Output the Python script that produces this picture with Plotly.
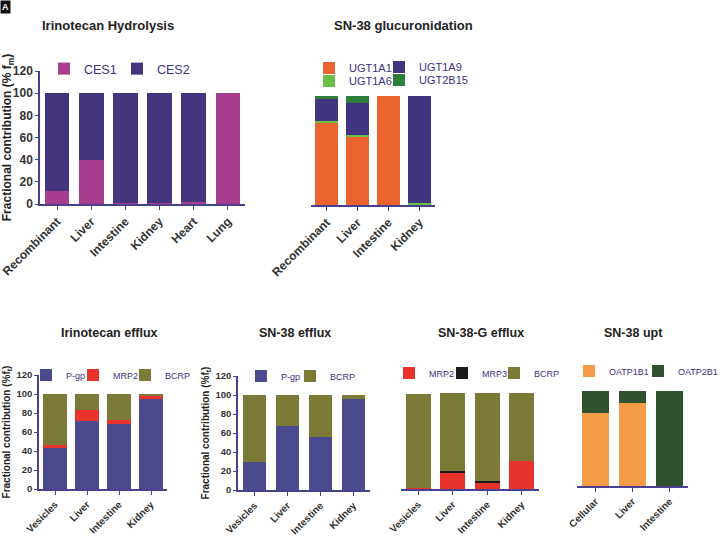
import plotly.graph_objects as go

W, H = 722, 539

# ---------------- data ----------------
hyd_categories = ["Recombinant", "Liver", "Intestine", "Kidney", "Heart", "Lung"]
hyd_ces1 = [12, 40, 0.5, 1, 2, 100]
hyd_ces2 = [88, 60, 99.5, 99, 98, 0]

gluc_categories = ["Recombinant", "Liver", "Intestine", "Kidney"]
gluc_ugt1a1 = [74, 62, 98, 0]
gluc_ugt1a6 = [1.5, 1, 0, 1.5]
gluc_ugt1a9 = [21, 29, 0, 96.5]
gluc_ugt2b15 = [1.5, 6, 0, 0]

irefflux_categories = ["Vesicles", "Liver", "Intestine", "Kidney"]
irefflux_pgp = [44, 72, 68, 95]
irefflux_mrp2 = [2, 11, 5, 3.5]
irefflux_bcrp = [54, 17, 27, 1.5]

snefflux_categories = ["Vesicles", "Liver", "Intestine", "Kidney"]
snefflux_pgp = [30, 67, 55.5, 95.5]
snefflux_bcrp = [70, 33, 44.5, 4.5]

gefflux_categories = ["Vesicles", "Liver", "Intestine", "Kidney"]
gefflux_mrp2 = [1.5, 17.5, 6.5, 29]
gefflux_mrp3 = [0, 1.5, 2, 0]
gefflux_bcrp = [98.5, 82, 92.5, 72]

upt_categories = ["Cellular", "Liver", "Intestine"]
upt_oatp1b1 = [76.5, 87, 0]
upt_oatp2b1 = [23.5, 13, 100]

y_ticks = [0, 20, 40, 60, 80, 100, 120]

# ---------------- style ----------------
FONT = "Liberation Sans, Arial, sans-serif"
AX_COLOR = "#4b3f8f"
TICK_COLOR = "#333333"
LEG_COLOR = "#3c3185"

C_CES1 = "#a63d8e"
C_CES2 = "#45357f"
C_UGT1A1 = "#eb6430"
C_UGT1A6 = "#6cbf46"
C_UGT1A9 = "#413581"
C_UGT2B15 = "#2f7d3b"
C_PGP = "#4b4a8e"
C_MRP2 = "#e8322b"
C_MRP3 = "#1a1a1a"
C_BCRP = "#7b7a36"
C_OATP1B1 = "#f59c47"
C_OATP2B1 = "#30522f"

fig = go.Figure()


def fx(px):
    return px / W


def fy(py):
    return (H - py) / H


legend_defs = {}
leg_count = [0]


def add_panel(idx, cats, series, x0, x1, y0, ytop, show_y, ytitle, tick_size, xtick_size,
              ytitle_size, leg_size):
    ax = "" if idx == 1 else str(idx)
    for name, vals, color, (sx, sy) in series:
        leg_count[0] += 1
        lname = "legend" if leg_count[0] == 1 else "legend%d" % leg_count[0]
        fig.add_trace(go.Bar(x=cats, y=vals, name=name, width=0.72, showlegend=True,
                             marker=dict(color=color, line=dict(width=0)),
                             xaxis="x" + ax, yaxis="y" + ax, legend=lname))
        # sx, sy: pixel centre of the legend swatch
        legend_defs[lname] = dict(x=fx(sx - 20), y=fy(sy), xanchor="left", yanchor="middle",
                                  orientation="h", bgcolor="rgba(255,255,255,0)", borderwidth=0,
                                  itemclick=False, itemdoubleclick=False, visible=True,
                                  font=dict(family=FONT, size=leg_size, color=LEG_COLOR))
    xa = dict(domain=[fx(x0), fx(x1)], anchor="y" + ax, showline=True, linecolor=AX_COLOR,
              linewidth=1.5, ticks="outside", ticklen=4, tickwidth=1.3, tickcolor=AX_COLOR,
              tickangle=-45, showgrid=False, zeroline=False, automargin=False,
              tickfont=dict(family=FONT, size=xtick_size, color=TICK_COLOR, weight="bold"))
    ya = dict(domain=[fy(y0), fy(ytop)], anchor="x" + ax, range=[0, 120], showgrid=False,
              zeroline=False, automargin=False)
    if show_y:
        ya.update(showline=True, linecolor=AX_COLOR, linewidth=1.5, ticks="outside", ticklen=3,
                  tickwidth=1.3, tickcolor=AX_COLOR, tickvals=y_ticks,
                  tickfont=dict(family=FONT, size=tick_size, color=TICK_COLOR, weight="bold"),
                  title=dict(text=ytitle, standoff=4,
                             font=dict(family=FONT, size=ytitle_size, color="#222222",
                                       weight="bold")))
    else:
        ya.update(showline=False, showticklabels=False, ticks="")
    fig.update_layout(**{"xaxis" + ax: xa, "yaxis" + ax: ya})


add_panel(1, hyd_categories,
          [("CES1", hyd_ces1, C_CES1, (64, 69)), ("CES2", hyd_ces2, C_CES2, (137, 69))],
          40, 245, 204, 71, True, "Fractional contribution (% f<sub>m</sub>)", 12, 12, 12, 12.5)

add_panel(2, gluc_categories,
          [("UGT1A1", gluc_ugt1a1, C_UGT1A1, (329, 68)),
           ("UGT1A6", gluc_ugt1a6, C_UGT1A6, (329, 81)),
           ("UGT1A9", gluc_ugt1a9, C_UGT1A9, (399, 67)),
           ("UGT2B15", gluc_ugt2b15, C_UGT2B15, (399, 80))],
          311, 435, 205, 72, False, "", 12, 12, 12, 11)

add_panel(3, irefflux_categories,
          [("P-gp", irefflux_pgp, C_PGP, (46, 375)),
           ("MRP2", irefflux_mrp2, C_MRP2, (93, 375)),
           ("BCRP", irefflux_bcrp, C_BCRP, (145, 375))],
          39, 167, 489, 375, True, "Fractional contribution (%f<sub>t</sub>)", 9.5, 10, 10, 9)

add_panel(4, snefflux_categories,
          [("P-gp", snefflux_pgp, C_PGP, (261, 376)),
           ("BCRP", snefflux_bcrp, C_BCRP, (310, 376))],
          238, 370, 490, 376, True, "Fractional contribution (%f<sub>t</sub>)", 9.5, 10, 10, 9)

add_panel(5, gefflux_categories,
          [("MRP2", gefflux_mrp2, C_MRP2, (409, 373)),
           ("MRP3", gefflux_mrp3, C_MRP3, (462, 373)),
           ("BCRP", gefflux_bcrp, C_BCRP, (514, 373))],
          401, 539, 489, 375, False, "", 9.5, 10, 10, 9)

add_panel(6, upt_categories,
          [("OATP1B1", upt_oatp1b1, C_OATP1B1, (589, 371)),
           ("OATP2B1", upt_oatp2b1, C_OATP2B1, (658, 371))],
          577, 688, 486, 372, False, "", 9.5, 10, 10, 9)

fig.update_layout(**legend_defs)

titles = [("Irinotecan Hydrolysis", 107.5, 26, 13), ("SN-38 glucuronidation", 403.5, 26, 13),
          ("Irinotecan efflux", 110, 333, 12.5), ("SN-38 efflux", 295, 333, 12.5),
          ("SN-38-G efflux", 480.5, 333, 12.5), ("SN-38 upt", 633, 333, 12.5)]
annotations = []
for text, x, y, s in titles:
    annotations.append(dict(text="<b>%s</b>" % text, x=fx(x), y=fy(y), xref="paper", yref="paper",
                            xanchor="center", yanchor="middle", showarrow=False,
                            font=dict(family=FONT, size=s, color="#222222")))
annotations.append(dict(text="<b>A</b>", x=0, y=1, xref="paper", yref="paper", xanchor="left",
                        yanchor="top", showarrow=False, bgcolor="#111111", borderpad=1,
                        font=dict(family=FONT, size=9, color="#ffffff")))

fig.update_layout(width=W, height=H, margin=dict(l=0, r=0, t=0, b=0, autoexpand=False),
                  barmode="stack", plot_bgcolor="white", paper_bgcolor="white",
                  showlegend=True, annotations=annotations, font=dict(family=FONT))

fig.write_html("out.html", config={"displayModeBar": False},
               post_script="document.body.style.margin='0';")
